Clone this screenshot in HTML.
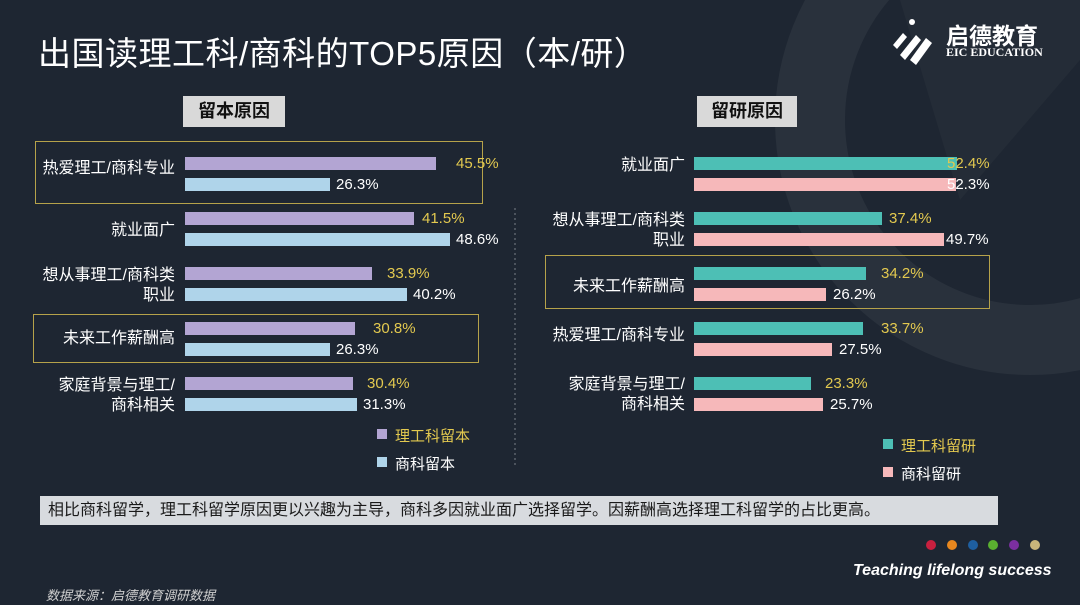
<!DOCTYPE html>
<html><head><meta charset="utf-8"><style>
body{margin:0;width:1080px;height:605px;overflow:hidden;background:#1e2632;font-family:"Liberation Sans","Noto Sans CJK SC",sans-serif;position:relative;color:#fff}
.a{position:absolute;white-space:nowrap}
.lab{position:absolute;font-size:16px;color:#fff;text-align:right;line-height:20px}
.v{position:absolute;font-size:15px;line-height:16px}
.y{color:#e3c94f}
.bar{position:absolute;height:13px}
.p{background:#b3a5d3}.b{background:#afd4ea}.t{background:#4dbfb5}.k{background:#f6b8ba}
.box{position:absolute;border:1.5px solid #b6a24a}
.hd{position:absolute;background:#d9d9d9;color:#111;font-weight:bold;font-size:18px;text-align:center;line-height:31px;height:31px}
</style></head><body>
<svg class="a" style="left:0;top:0" width="1080" height="605">
<circle cx="1030" cy="120" r="220" fill="none" stroke="#29313c" stroke-width="70"/>
<path d="M900 0 L1080 0 L1080 60 L960 200 Z" fill="#242c37"/>
<line x1="515" y1="208" x2="515" y2="467" stroke="#7a8088" stroke-width="1" stroke-dasharray="2,3"/>
<circle cx="931" cy="545" r="5" fill="#c8203f"/><circle cx="952" cy="545" r="5" fill="#e8871e"/><circle cx="973" cy="545" r="5" fill="#1e5fa0"/><circle cx="993" cy="545" r="5" fill="#5ab030"/><circle cx="1014" cy="545" r="5" fill="#7b2fa0"/><circle cx="1035" cy="545" r="5" fill="#c8b47a"/>
<g fill="#fff"><path d="M893 45 l10 -12 l4 4 l-10 12z"/><path d="M900 55 l16 -20 l5 5 l-16 20z"/><path d="M910 60 l16 -22 l6 5 l-16 22z"/><circle cx="912" cy="22" r="3"/></g>
</svg>
<div class="a" style="left:38px;top:32px;font-size:33px;line-height:44px;letter-spacing:0.5px">出国读理工科/商科的TOP5原因（本/研）</div>
<div class="a" style="left:946px;top:17px;font-size:23px;font-weight:bold">启德教育</div>
<div class="a" style="left:946px;top:45px;font-size:12px;font-weight:bold;font-family:'Liberation Serif',serif">EIC EDUCATION</div>
<div class="hd" style="left:183px;top:96px;width:102px">留本原因</div>
<div class="hd" style="left:697px;top:96px;width:100px">留研原因</div>
<div class="box" style="left:35px;top:141px;width:446px;height:61px"></div>
<div class="box" style="left:33px;top:314px;width:444px;height:47px"></div>
<div class="box" style="left:545px;top:255px;width:443px;height:52px"></div>
<!-- left -->
<div class="lab" style="right:905px;top:159px">热爱理工/商科专业</div>
<div class="lab" style="right:905px;top:221px">就业面广</div>
<div class="lab" style="right:905px;top:266px">想从事理工/商科类<br>职业</div>
<div class="lab" style="right:905px;top:329px">未来工作薪酬高</div>
<div class="lab" style="right:905px;top:376px">家庭背景与理工/<br>商科相关</div>
<div class="bar p" style="left:185px;top:157px;width:251px"></div><div class="v y" style="left:456px;top:156px">45.5%</div>
<div class="bar b" style="left:185px;top:178px;width:145px"></div><div class="v" style="left:336px;top:177px">26.3%</div>
<div class="bar p" style="left:185px;top:212px;width:229px"></div><div class="v y" style="left:422px;top:211px">41.5%</div>
<div class="bar b" style="left:185px;top:233px;width:265px"></div><div class="v" style="left:456px;top:232px">48.6%</div>
<div class="bar p" style="left:185px;top:267px;width:187px"></div><div class="v y" style="left:387px;top:266px">33.9%</div>
<div class="bar b" style="left:185px;top:288px;width:222px"></div><div class="v" style="left:413px;top:287px">40.2%</div>
<div class="bar p" style="left:185px;top:322px;width:170px"></div><div class="v y" style="left:373px;top:321px">30.8%</div>
<div class="bar b" style="left:185px;top:343px;width:145px"></div><div class="v" style="left:336px;top:342px">26.3%</div>
<div class="bar p" style="left:185px;top:377px;width:168px"></div><div class="v y" style="left:367px;top:376px">30.4%</div>
<div class="bar b" style="left:185px;top:398px;width:172px"></div><div class="v" style="left:363px;top:397px">31.3%</div>
<div class="bar p" style="left:377px;top:429px;width:10px;height:10px"></div><div class="a y" style="left:395px;top:425px;font-size:15px">理工科留本</div>
<div class="bar b" style="left:377px;top:457px;width:10px;height:10px"></div><div class="a" style="left:395px;top:453px;font-size:15px">商科留本</div>
<!-- right -->
<div class="lab" style="right:395px;top:156px">就业面广</div>
<div class="lab" style="right:395px;top:211px">想从事理工/商科类<br>职业</div>
<div class="lab" style="right:395px;top:277px">未来工作薪酬高</div>
<div class="lab" style="right:395px;top:326px">热爱理工/商科专业</div>
<div class="lab" style="right:395px;top:375px">家庭背景与理工/<br>商科相关</div>
<div class="bar t" style="left:694px;top:157px;width:263px"></div><div class="v y" style="left:947px;top:156px">52.4%</div>
<div class="bar k" style="left:694px;top:178px;width:262px"></div><div class="v" style="left:947px;top:177px">52.3%</div>
<div class="bar t" style="left:694px;top:212px;width:188px"></div><div class="v y" style="left:889px;top:211px">37.4%</div>
<div class="bar k" style="left:694px;top:233px;width:250px"></div><div class="v" style="left:946px;top:232px">49.7%</div>
<div class="bar t" style="left:694px;top:267px;width:172px"></div><div class="v y" style="left:881px;top:266px">34.2%</div>
<div class="bar k" style="left:694px;top:288px;width:132px"></div><div class="v" style="left:833px;top:287px">26.2%</div>
<div class="bar t" style="left:694px;top:322px;width:169px"></div><div class="v y" style="left:881px;top:321px">33.7%</div>
<div class="bar k" style="left:694px;top:343px;width:138px"></div><div class="v" style="left:839px;top:342px">27.5%</div>
<div class="bar t" style="left:694px;top:377px;width:117px"></div><div class="v y" style="left:825px;top:376px">23.3%</div>
<div class="bar k" style="left:694px;top:398px;width:129px"></div><div class="v" style="left:830px;top:397px">25.7%</div>
<div class="bar t" style="left:883px;top:439px;width:10px;height:10px"></div><div class="a y" style="left:901px;top:435px;font-size:15px">理工科留研</div>
<div class="bar k" style="left:883px;top:467px;width:10px;height:10px"></div><div class="a" style="left:901px;top:463px;font-size:15px">商科留研</div>
<div class="a" style="left:40px;top:496px;width:950px;height:29px;background:#d8dbdf;color:#1a1a1a;font-size:16px;line-height:29px;padding-left:8px">相比商科留学，理工科留学原因更以兴趣为主导，商科多因就业面广选择留学。因薪酬高选择理工科留学的占比更高。</div>
<div class="a" style="left:853px;top:562px;font-size:16px;font-style:italic;font-weight:bold">Teaching lifelong success</div>
<div class="a" style="left:46px;top:585px;font-size:13px;font-style:italic;color:#d0d0d0">数据来源：启德教育调研数据</div>
</body></html>
